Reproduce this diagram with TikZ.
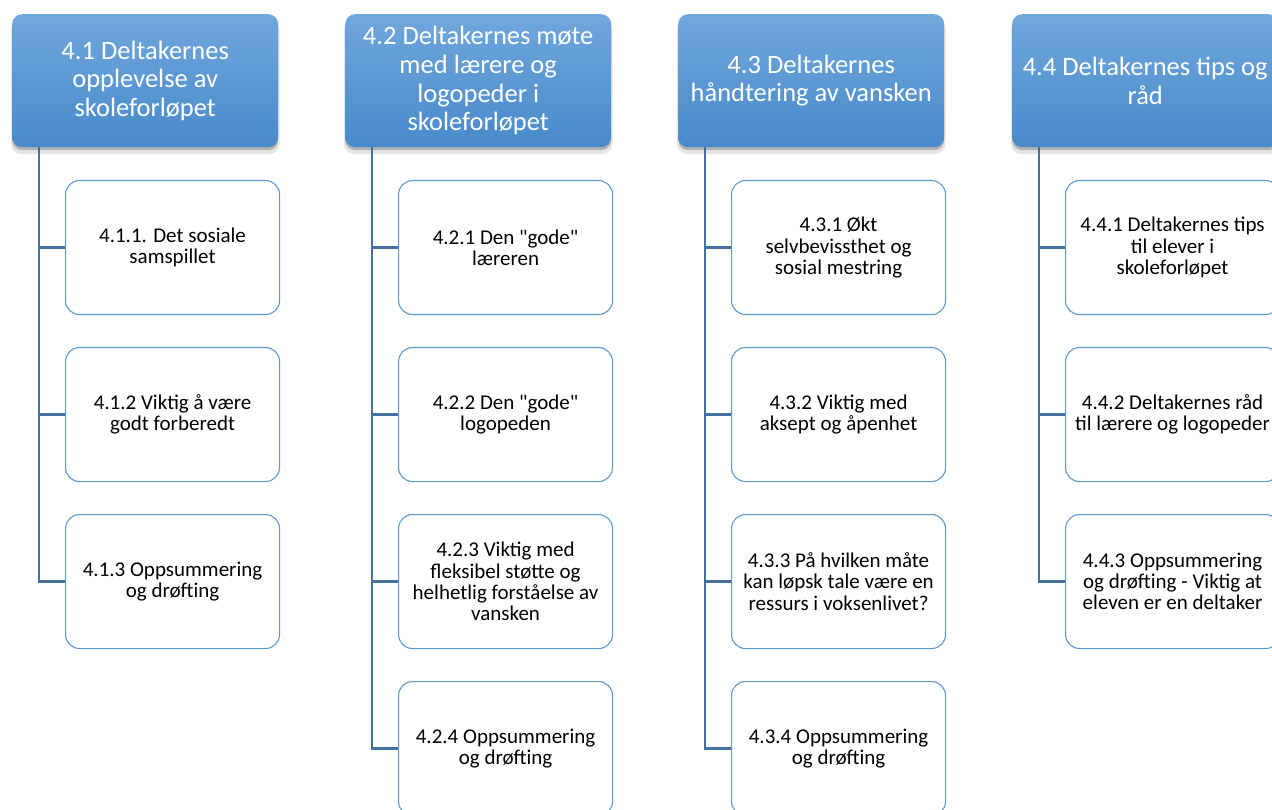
\documentclass[tikz,border=0pt]{standalone}
\usepackage{fontspec}
\setmainfont{Carlito}
\usetikzlibrary{shadows}
\definecolor{hdtop}{RGB}{112,167,220}
\definecolor{hdbot}{RGB}{72,138,202}
\definecolor{conn}{RGB}{65,113,160}
\definecolor{childline}{RGB}{91,155,213}
\tikzset{
  header/.style={rectangle, rounded corners=10pt, minimum width=266pt, minimum height=133pt,
    anchor=north west, top color=hdtop, bottom color=hdbot, text=white, align=center,
    font=\fontsize{26.5}{28.7}\selectfont, inner sep=2pt,
    drop shadow={shadow xshift=0pt, shadow yshift=-6pt, shadow scale=1.01, opacity=0.10, fill=black},
    drop shadow={shadow xshift=0pt, shadow yshift=-3pt, opacity=0.22, fill=black}},
  child/.style={rectangle, rounded corners=14pt, minimum width=214pt, minimum height=134pt,
    anchor=north west, draw=childline, line width=1.1pt, fill=white, text=black, align=center,
    font=\fontsize{21}{21.3}\selectfont, inner sep=2pt},
  connector/.style={draw=conn, line width=2.8pt}
}
\begin{document}
\begin{tikzpicture}[x=1pt,y=-1pt]
\clip (0,0) rectangle (1272,810);
\fill[white] (0,0) rectangle (1272,810);
% headers
\node[header] (h1) at (12,14) {4.1 Deltakernes\\opplevelse av\\skoleforløpet};
\node[header] (h2) at (345,14) {4.2 Deltakernes møte\\med lærere og\\logopeder i\\skoleforløpet};
\node[header] (h3) at (678,14) {4.3 Deltakernes\\håndtering av vansken};
\node[header] (h4) at (1012,14) {4.4 Deltakernes tips og\\råd};
% tops of connectors
\coordinate (t1) at ([xshift=27pt]h1.south west);
\coordinate (t2) at ([xshift=27pt]h2.south west);
\coordinate (t3) at ([xshift=27pt]h3.south west);
\coordinate (t4) at ([xshift=27pt]h4.south west);
% column 1
\node[child] (c11) at (65,180) {4.1.1. Det sosiale\\samspillet};
\node[child] (c12) at (65,347) {4.1.2 Viktig å være\\godt forberedt};
\node[child] (c13) at (65,514) {4.1.3 Oppsummering\\og drøfting};
% column 2
\node[child] (c21) at (398,180) {4.2.1 Den \textquotedbl gode\textquotedbl\\læreren};
\node[child] (c22) at (398,347) {4.2.2 Den \textquotedbl gode\textquotedbl\\logopeden};
\node[child] (c23) at (398,514) {4.2.3 Viktig med\\fleksibel støtte og\\helhetlig forståelse av\\vansken};
\node[child] (c24) at (398,681) {4.2.4 Oppsummering\\og drøfting};
% column 3
\node[child] (c31) at (731,180) {4.3.1 Økt\\selvbevissthet og\\sosial mestring};
\node[child] (c32) at (731,347) {4.3.2 Viktig med\\aksept og åpenhet};
\node[child] (c33) at (731,514) {4.3.3 På hvilken måte\\kan løpsk tale være en\\ressurs i voksenlivet?};
\node[child] (c34) at (731,681) {4.3.4 Oppsummering\\og drøfting};
% column 4
\node[child] (c41) at (1065,180) {4.4.1 Deltakernes tips\\til elever i\\skoleforløpet};
\node[child] (c42) at (1065,347) {4.4.2 Deltakernes råd\\til lærere og logopeder};
\node[child] (c43) at (1065,514) {4.4.3 Oppsummering\\og drøfting - Viktig at\\eleven er en deltaker};
% connectors
\foreach \c in {c11,c12,c13} \draw[connector] (t1) |- (\c.west);
\foreach \c in {c21,c22,c23,c24} \draw[connector] (t2) |- (\c.west);
\foreach \c in {c31,c32,c33,c34} \draw[connector] (t3) |- (\c.west);
\foreach \c in {c41,c42,c43} \draw[connector] (t4) |- (\c.west);
\end{tikzpicture}
\end{document}
